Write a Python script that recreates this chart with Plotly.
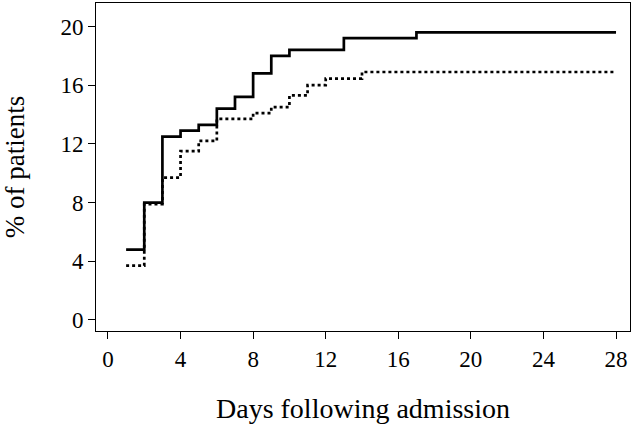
import plotly.graph_objects as go

days = [1, 2, 3, 4, 5, 6, 7, 8, 9, 10, 11, 12, 13, 14, 17, 28]
solid_pct = [4.8, 8.0, 12.5, 12.9, 13.3, 14.4, 15.2, 16.8, 18.0, 18.4, 18.4, 18.4, 19.2, 19.2, 19.6, 19.6]
dotted_pct = [3.7, 7.9, 9.7, 11.5, 12.2, 13.7, 13.7, 14.1, 14.5, 15.3, 16.0, 16.45, 16.45, 16.9, 16.9, 16.9]

x_ticks = [0, 4, 8, 12, 16, 20, 24, 28]
y_ticks = [0, 4, 8, 12, 16, 20]

fig = go.Figure()
fig.add_trace(go.Scatter(x=days, y=solid_pct, mode="lines", line=dict(shape="hv", color="black", width=2.7), showlegend=False))
fig.add_trace(go.Scatter(x=days, y=dotted_pct, mode="lines", line=dict(shape="hv", color="black", width=2.7, dash="dot"), showlegend=False))

font = dict(family="Liberation Serif, Times New Roman, serif", color="black")
fig.update_layout(
    width=633, height=430,
    margin=dict(l=96, r=3, t=3, b=99),
    paper_bgcolor="white", plot_bgcolor="white",
    font=dict(**font, size=23),
)
fig.update_xaxes(
    range=[-0.66, 28.77], tickvals=x_ticks, ticks="outside", ticklen=7, tickwidth=1, tickcolor="black",
    showline=True, linecolor="black", linewidth=1, mirror=True, showgrid=False, zeroline=False,
    tickfont=dict(**font, size=23), automargin=False,
    title=dict(text="Days following admission", font=dict(**font, size=28), standoff=27),
)
fig.update_yaxes(
    range=[-0.75, 21.6], tickvals=y_ticks, ticks="outside", ticklen=7, tickwidth=1, tickcolor="black",
    showline=True, linecolor="black", linewidth=1, mirror=True, showgrid=False, zeroline=False,
    tickfont=dict(**font, size=23), automargin=False,
    title=dict(text="% of patients", font=dict(**font, size=27), standoff=27),
)
fig.write_html("out.html", config={"displayModeBar": False},
               post_script="document.body.style.margin='0';document.body.style.overflow='hidden';")
